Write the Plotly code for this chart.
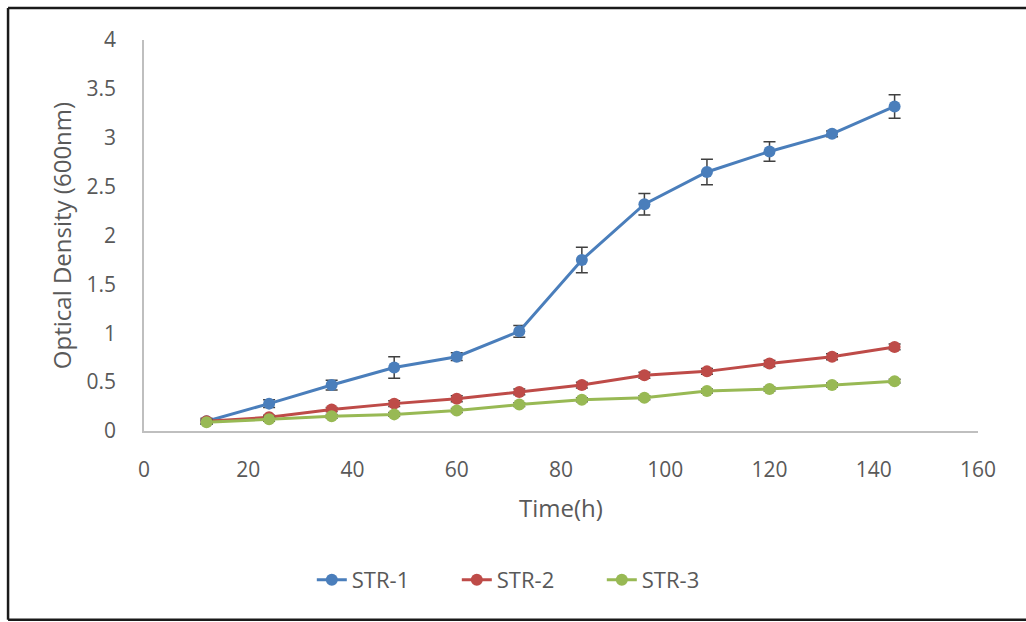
import plotly.graph_objects as go

time_h = [12, 24, 36, 48, 60, 72, 84, 96, 108, 120, 132, 144]

str1 = [0.10, 0.28, 0.47, 0.65, 0.76, 1.02, 1.75, 2.32, 2.65, 2.86, 3.04, 3.32]
str1_err = [0.03, 0.04, 0.05, 0.11, 0.04, 0.06, 0.13, 0.11, 0.13, 0.10, 0.03, 0.12]

str2 = [0.10, 0.14, 0.22, 0.28, 0.33, 0.40, 0.47, 0.57, 0.61, 0.69, 0.76, 0.86]
str2_err = [0.02, 0.02, 0.02, 0.03, 0.03, 0.03, 0.03, 0.03, 0.03, 0.03, 0.03, 0.03]

str3 = [0.09, 0.12, 0.15, 0.17, 0.21, 0.27, 0.32, 0.34, 0.41, 0.43, 0.47, 0.51]
str3_err = [0.02, 0.02, 0.02, 0.02, 0.02, 0.02, 0.02, 0.02, 0.02, 0.02, 0.02, 0.02]

series_names = ["STR-1", "STR-2", "STR-3"]
series_vals = [str1, str2, str3]
series_errs = [str1_err, str2_err, str3_err]
colors = ["#4A7EBB", "#BE4B48", "#98B954"]

FONT = "Open Sans"
TXT = "#595959"

fig = go.Figure()
for name, vals, errs, col in zip(series_names, series_vals, series_errs, colors):
    fig.add_trace(go.Scatter(
        x=time_h, y=vals, name=name, mode="lines+markers",
        line=dict(color=col, width=3),
        marker=dict(color=col, size=12, symbol="circle"),
        error_y=dict(type="data", array=errs, visible=True,
                     color="#404040", thickness=1.5, width=6),
    ))

fig.update_layout(
    width=1026, height=622,
    margin=dict(l=144, r=48, t=40, b=191),
    paper_bgcolor="white", plot_bgcolor="white",
    font=dict(family=FONT, size=21, color=TXT),
    showlegend=True,
    legend=dict(orientation="h", x=0.462, xanchor="center", y=-0.381, yanchor="middle",
                font=dict(size=22, color=TXT), entrywidth=100, entrywidthmode="pixels",
                bgcolor="rgba(0,0,0,0)"),
    xaxis=dict(range=[0, 160], dtick=20, tick0=0, showgrid=False, zeroline=False,
               showline=True, linecolor="#BFBFBF", linewidth=1.5,
               ticks="", ticklabelstandoff=19,
               title=dict(text="Time(h)", standoff=18, font=dict(size=24, color=TXT))),
    yaxis=dict(range=[0, 4], dtick=0.5, tick0=0, showgrid=False, zeroline=False,
               showline=True, linecolor="#BFBFBF", linewidth=1.5,
               ticks="", ticklabelstandoff=22,
               title=dict(text="Optical Density (600nm)", standoff=8, font=dict(size=24, color=TXT))),
)

# outer chart frame (left, top, bottom edges)
frame = dict(type="line", xref="paper", yref="paper", line=dict(color="#1a1a1a", width=2.5))
fig.add_shape(**frame, x0=-0.163, x1=-0.163, y0=1.082, y1=-0.483)
fig.add_shape(**frame, x0=-0.163, x1=1.07, y0=1.082, y1=1.082)
fig.add_shape(**frame, x0=-0.163, x1=1.07, y0=-0.483, y1=-0.483)

fig.write_html("out.html")
